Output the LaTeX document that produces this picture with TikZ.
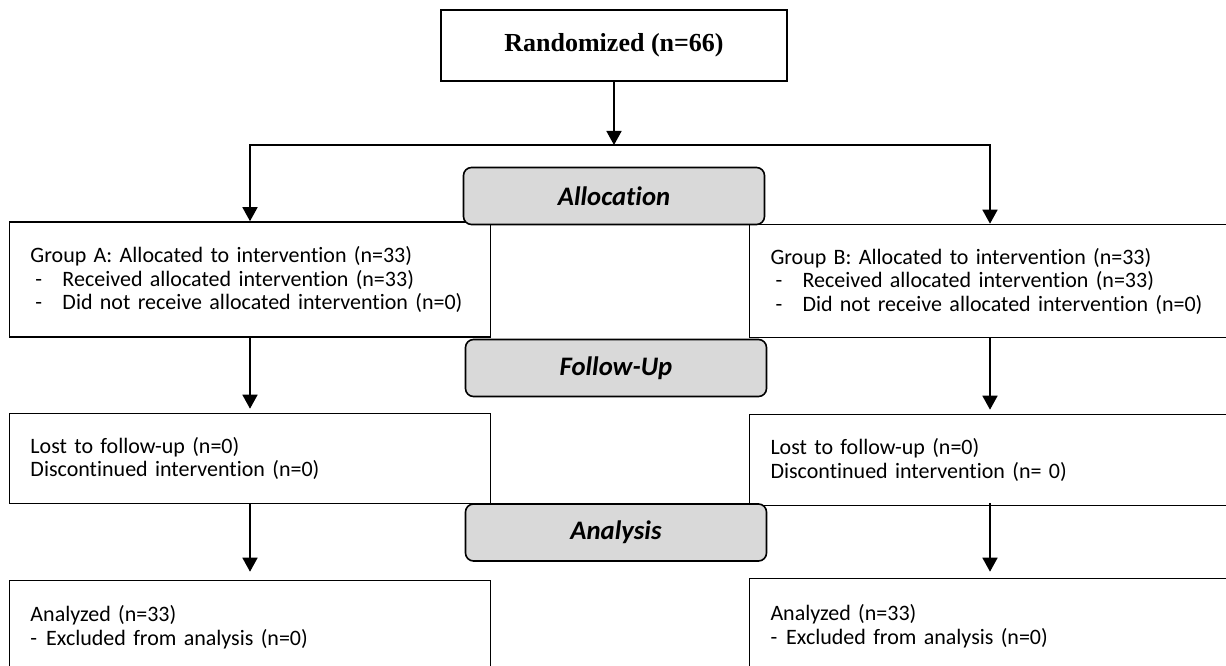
\documentclass[tikz,border=0pt]{standalone}
\usepackage{fontspec}
\setmainfont[Ligatures=NoCommon]{Carlito}
\newfontfamily\headfont{Liberation Serif}
\usetikzlibrary{arrows.meta}
\definecolor{phasegray}{HTML}{D9D9D9}
\newcommand{\subline}[1]{\makebox[32pt][l]{\hspace{5pt}-}#1}

\begin{document}
\begin{tikzpicture}[x=1pt, y=-1pt,
    box/.style={draw, line width=1.6pt, fill=white, inner xsep=21pt, inner ysep=0pt, text width=439pt, align=left, font=\fontsize{22}{23.5}\selectfont},
    phase/.style={draw, line width=1.6pt, fill=phasegray, rounded corners=8pt, minimum width=301pt, minimum height=57pt, font=\fontsize{26.7}{30}\selectfont\bfseries\itshape},
    arr/.style={line width=1.6pt, -{Triangle[length=14pt, width=15pt]}}]
    \useasboundingbox (0, 0) rectangle (1226, 666);

    \node[draw, line width=1.6pt, minimum width=346pt, minimum height=71pt, font=\headfont\bfseries\fontsize{26}{30}\selectfont] (rand) at (614, 45.5) {Randomized (n=66)};
    \coordinate (split) at (614, 145);

    \node[box, minimum height=115pt] (grpA) at (250, 279.5) {Group A: Allocated to intervention (n=33)\\ \subline{Received allocated intervention (n=33)}\\ \subline{Did not receive allocated intervention (n=0)}};
    \node[box, minimum height=113pt] (grpB) at (990, 281) {Group B: Allocated to intervention (n=33)\\ \subline{Received allocated intervention (n=33)}\\ \subline{Did not receive allocated intervention (n=0)}};

    \node[box, minimum height=90pt] (lostA) at (250, 458.5) {Lost to follow-up (n=0)\\ Discontinued intervention (n=0)};
    \node[box, minimum height=91pt] (lostB) at (990, 460) {Lost to follow-up (n=0)\\ Discontinued intervention (n= 0)};

    \node[box, minimum height=93pt] (anaA) at (250, 627) {Analyzed (n=33)\\ -\hspace{9pt}Excluded from analysis (n=0)};
    \node[box, minimum height=95pt] (anaB) at (990, 626) {Analyzed (n=33)\\ -\hspace{9pt}Excluded from analysis (n=0)};

    \draw[arr] (rand) -- (split);
    \draw[arr] (split) -| (grpA.north);
    \draw[arr] (split) -| (grpB.north);
    \draw[arr, shorten >=4pt] (grpA) -- (lostA);
    \draw[arr, shorten >=4pt] (grpB) -- (lostB);
    \draw[arr, shorten >=8pt] (lostA) -- (anaA);
    \draw[arr, shorten >=6pt] (lostB.south) ++(0, -3) -- (anaB.north);

    \node[phase] (alloc) at (614, 196) {Allocation};
    \node[phase] (follow) at (616, 368) {Follow-Up};
    \node[phase] (analysis) at (616, 532.5) {Analysis};
\end{tikzpicture}
\end{document}
